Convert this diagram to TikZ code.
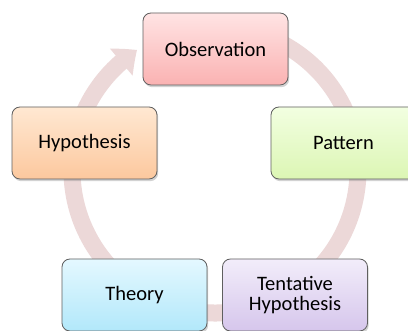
\documentclass[tikz,border=0pt]{standalone}
\usepackage{fontspec}
\setmainfont{Carlito}
\usetikzlibrary{arrows.meta,bending,shadows}
\definecolor{ringc}{RGB}{236,216,216}
\definecolor{edgec}{RGB}{95,95,95}
\tikzset{
  stage/.style={draw=edgec, line width=0.8pt, rounded corners=8pt, minimum width=145pt, minimum height=72pt,
    align=center, font=\fontsize{20.5}{20}\selectfont, text=black,
    drop shadow={opacity=0.35, shadow xshift=1.2pt, shadow yshift=-2.2pt}},
  obs/.style={stage, top color={rgb,255:red,255;green,228;blue,228}, bottom color={rgb,255:red,250;green,178;blue,178}},
  hyp/.style={stage, top color={rgb,255:red,255;green,232;blue,210}, bottom color={rgb,255:red,252;green,200;blue,158}},
  pat/.style={stage, top color={rgb,255:red,242;green,255;blue,225}, bottom color={rgb,255:red,220;green,246;blue,180}},
  the/.style={stage, top color={rgb,255:red,228;green,248;blue,255}, bottom color={rgb,255:red,178;green,232;blue,250}},
  ten/.style={stage, top color={rgb,255:red,242;green,237;blue,250}, bottom color={rgb,255:red,214;green,198;blue,236}},
}
\begin{document}
\begin{tikzpicture}[x=1pt,y=1pt]
\useasboundingbox (0,0) rectangle (408,331);
\clip (0,0) rectangle (408,331);
\fill[white] (0,0) rectangle (408,331);
\coordinate (c) at (215,161);
\draw[ringc, line width=17pt, -{Triangle[width=34pt,length=20pt,bend]}]
  ([shift={(80:143)}]c) arc[start angle=80, end angle=-237, radius=143];
\node[obs] (o) at (215.5,282) {Observation};
\node[hyp] (h) at (84.5,188) {Hypothesis};
\node[pat] (p) at (343.5,188) {Pattern};
\node[the] (t) at (134.5,36) {Theory};
\node[ten] (th) at (295,36) {Tentative\\Hypothesis};
\end{tikzpicture}
\end{document}
